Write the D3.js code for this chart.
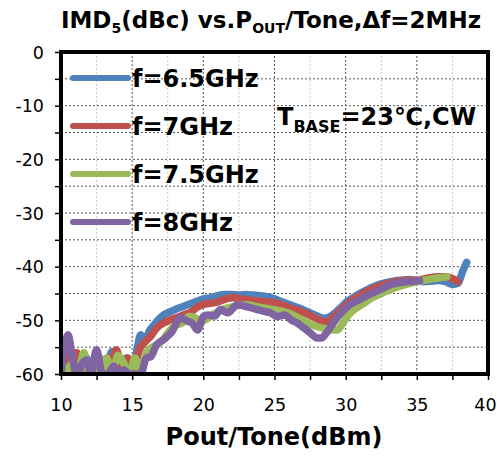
<!DOCTYPE html>
<html>
<head>
<meta charset="utf-8">
<script src="https://cdn.jsdelivr.net/npm/d3@7"></script>
<style>
  body { margin: 0; background: #fff; }
  text { font-family: "DejaVu Sans", Verdana, sans-serif; fill: #000; }
</style>
</head>
<body>
<div id="chart"></div>
<script>
// series data
var seriesNames = ["f=6.5GHz", "f=7GHz", "f=7.5GHz", "f=8GHz"];
var seriesColors = ["#4F81BD", "#C0504D", "#9BBB59", "#8064A2"];

var pout65 = [10.0, 10.3, 10.6, 11.0, 11.4, 11.8, 12.2, 12.6, 13.0, 13.3, 13.6, 13.9, 14.2, 14.6, 15.0, 15.3, 15.6, 15.9, 16.2, 16.5, 16.8, 17.2, 17.6, 18.0, 18.5, 19.0, 19.5, 20.0, 20.5, 21.0, 21.5, 22.0, 22.5, 23.0, 23.5, 24.0, 24.5, 25.0, 25.5, 26.0, 26.5, 27.0, 27.5, 28.0, 28.5, 28.9, 29.3, 29.7, 30.1, 30.5, 31.0, 31.5, 32.0, 32.5, 33.0, 33.5, 34.0, 34.5, 35.0, 35.5, 36.0, 36.5, 37.0, 37.5, 37.9, 38.2, 38.5];
var imd65  = [-54, -56, -60, -58, -60, -57, -60, -59, -60, -57.5, -55.8, -58, -60, -57, -60, -56, -52.7, -54, -52, -51, -50, -49, -48.5, -48, -47.5, -47, -46.5, -46, -45.8, -45.4, -45.2, -45.2, -45.3, -45.2, -45.3, -45.4, -45.6, -46, -46.5, -47, -47.5, -48, -48.6, -49.2, -49.6, -49.3, -48.5, -47.5, -46.5, -45.8, -45, -44.3, -43.7, -43.2, -42.9, -42.6, -42.5, -42.4, -42.6, -42.8, -42.7, -42.6, -42.8, -43.3, -43.1, -41, -39.2];

var pout7 = [10.0, 10.3, 10.7, 11.1, 11.5, 11.9, 12.3, 12.7, 13.1, 13.5, 13.9, 14.3, 14.7, 15.1, 15.5, 15.9, 16.3, 16.7, 17.2, 17.6, 18.1, 18.6, 19.1, 19.6, 20.1, 20.6, 21.1, 21.6, 22.1, 22.6, 23.1, 23.6, 24.1, 24.6, 25.1, 25.6, 26.1, 26.6, 27.1, 27.6, 28.1, 28.5, 28.9, 29.3, 29.7, 30.1, 30.5, 31.0, 31.5, 32.0, 32.5, 33.0, 33.5, 34.0, 34.5, 35.0, 35.5, 36.0, 36.5, 37.0, 37.5, 37.9];
var imd7  = [-55, -57, -60, -56, -60, -58, -60, -57, -60, -58, -55.5, -60, -57, -59, -55.5, -54, -53, -51.5, -50.5, -50, -49.5, -49, -48.5, -47.5, -47, -46.8, -46.5, -46, -45.8, -46, -46.2, -46.3, -46.5, -46.6, -46.8, -47.2, -47.7, -48.1, -48.6, -49.2, -49.9, -50.3, -50, -49, -48, -47, -46.2, -45.4, -44.6, -44, -43.5, -43.1, -42.8, -42.6, -42.5, -42.6, -42.3, -42, -41.9, -41.9, -42.2, -42.8];

var pout75 = [10.0, 10.4, 10.8, 11.2, 11.6, 12.0, 12.4, 12.8, 13.2, 13.6, 14.0, 14.4, 14.8, 15.2, 15.6, 16.0, 16.4, 16.8, 17.2, 17.6, 18.0, 18.5, 19.0, 19.4, 19.8, 20.2, 20.6, 21.0, 21.5, 22.0, 22.5, 23.0, 23.5, 24.0, 24.5, 25.0, 25.5, 26.0, 26.5, 27.0, 27.5, 28.0, 28.5, 29.0, 29.4, 29.8, 30.2, 30.6, 31.0, 31.5, 32.0, 32.5, 33.0, 33.5, 34.0, 34.5, 35.0, 35.5, 36.0, 36.5, 37.1];
var imd75  = [-57, -60, -58, -60, -56, -60, -59, -60, -57, -60, -56.5, -58, -60, -57, -60, -56, -55, -54.5, -53.5, -52, -51, -50.5, -49.3, -49.5, -50.3, -49.8, -49, -48.5, -47.8, -47.5, -47.2, -47.1, -47.3, -47.6, -47.8, -48, -48.3, -48.7, -49.3, -50, -50.7, -51.2, -51.5, -51.8, -51.8, -50.5, -49, -48, -47.3, -46.4, -45.6, -45, -44.4, -43.9, -43.5, -43.1, -42.8, -42.5, -42.3, -42.1, -41.9];

var pout8 = [10.0, 10.25, 10.5, 10.8, 11.1, 11.5, 11.8, 12.1, 12.5, 12.9, 13.3, 13.7, 14.1, 14.4, 14.8, 15.2, 15.6, 16.0, 16.3, 16.7, 17.2, 17.8, 18.4, 18.9, 19.2, 19.6, 20.0, 20.3, 20.8, 21.2, 21.7, 22.4, 23.1, 23.8, 24.2, 24.7, 25.2, 25.7, 26.2, 26.6, 27.0, 27.5, 28.0, 28.3, 28.6, 29.0, 29.4, 29.8, 30.3, 30.8, 31.3, 31.9, 32.5, 33.1, 33.7, 34.3, 34.8, 35.2];
var imd8  = [-60, -55, -52.7, -57, -60, -58, -57.4, -60, -55.5, -60, -60, -58.5, -60, -59.2, -60, -60, -60, -57, -56.8, -54.6, -53.6, -52.1, -49.5, -50.2, -50.5, -51.8, -49.3, -49, -49.2, -48, -48.6, -47.1, -47.5, -48, -48.3, -48.6, -49.3, -49, -50, -50.5, -51.3, -52.3, -53.3, -53.3, -52.5, -51, -49.5, -48.3, -47.1, -46.4, -45.7, -44.9, -44.2, -43.4, -43, -42.8, -42.7, -42.6];

var xTicks = [10, 15, 20, 25, 30, 35, 40];
var yTicks = [0, -10, -20, -30, -40, -50, -60];

var pouts = [pout65, pout7, pout75, pout8];
var imds = [imd65, imd7, imd75, imd8];

var width = 497, height = 457;
var margin = {top: 52, right: 9, bottom: 83, left: 61};
var plotW = width - margin.left - margin.right;
var plotH = height - margin.top - margin.bottom;

var svg = d3.select("#chart").append("svg")
    .attr("width", width)
    .attr("height", height);

var x = d3.scaleLinear().domain([10, 40]).range([0, plotW]);
var y = d3.scaleLinear().domain([-60, 0]).range([plotH, 0]);

var g = svg.append("g")
    .attr("transform", "translate(" + margin.left + "," + margin.top + ")");

// grid lines
var xGrid = d3.range(10, 40.01, 2.5);
var yGrid = d3.range(-60, 0.01, 5);

g.selectAll(".vgrid").data(xGrid).enter().append("line")
    .attr("x1", function(d){ return x(d); })
    .attr("x2", function(d){ return x(d); })
    .attr("y1", 0).attr("y2", plotH)
    .attr("stroke", function(d){ return d % 5 == 0 ? "#555" : "#c8c8c8"; })
    .attr("stroke-width", 1)
    .attr("stroke-dasharray", "2,2");

g.selectAll(".hgrid").data(yGrid).enter().append("line")
    .attr("x1", 0).attr("x2", plotW)
    .attr("y1", function(d){ return y(d); })
    .attr("y2", function(d){ return y(d); })
    .attr("stroke", "#555")
    .attr("stroke-width", 1)
    .attr("stroke-dasharray", "2,2");

// lines
svg.append("defs").append("clipPath").attr("id", "clip")
    .append("rect").attr("width", plotW).attr("height", plotH);

var line = d3.line()
    .x(function(d){ return x(d[0]); })
    .y(function(d){ return y(d[1]); })
    .curve(d3.curveMonotoneX);

var lines = g.append("g").attr("clip-path", "url(#clip)");
pouts.forEach(function(p, i){
    var pts = p.map(function(v, j){ return [v, imds[i][j]]; });
    lines.append("path")
        .datum(pts)
        .attr("d", line)
        .attr("fill", "none")
        .attr("stroke", seriesColors[i])
        .attr("stroke-width", 7.5)
        .attr("stroke-linejoin", "round")
        .attr("stroke-linecap", "round");
});

// axes
var xAxis = d3.axisBottom(x).tickValues(xGrid).tickSize(6)
    .tickFormat(function(d){ return xTicks.indexOf(d) >= 0 ? d : ""; });
var yAxis = d3.axisLeft(y).tickValues(yGrid).tickSize(6)
    .tickFormat(function(d){ return yTicks.indexOf(d) >= 0 ? d : ""; });

var gx = g.append("g").attr("transform", "translate(0," + plotH + ")").call(xAxis);
var gy = g.append("g").call(yAxis);
[gx, gy].forEach(function(a){
    a.select(".domain").remove();
    a.selectAll(".tick line").attr("stroke", "#000").attr("stroke-width", 1.5);
    a.selectAll(".tick text").style("font-family", "'DejaVu Sans', sans-serif")
        .style("font-size", "17.5px").attr("fill", "#000");
});
gx.selectAll(".tick text").attr("dy", null).attr("y", 37)
    .attr("dx", function(d){ return d == 40 ? -3 : 0; });
gy.selectAll(".tick text").attr("x", -17).attr("dy", "0.35em");

// plot border
g.append("rect")
    .attr("width", plotW).attr("height", plotH)
    .attr("fill", "none").attr("stroke", "#000").attr("stroke-width", 4);

// legend
var leg = g.selectAll(".leg").data(seriesNames).enter().append("g")
    .attr("transform", function(d, i){ return "translate(12," + (26 + i * 48) + ")"; });
leg.append("line")
    .attr("x1", 0).attr("x2", 55).attr("y1", 0).attr("y2", 0)
    .attr("stroke", function(d, i){ return seriesColors[i]; })
    .attr("stroke-width", 6)
    .attr("stroke-linecap", "round");
leg.append("text")
    .attr("x", 59).attr("y", 9)
    .style("font-size", "24px").style("font-weight", "bold")
    .text(function(d){ return d; });

// annotation
var ann = g.append("text").attr("x", 216).attr("y", 73)
    .style("font-weight", "bold").style("font-size", "24px");
ann.append("tspan").text("T");
ann.append("tspan").attr("dy", 7).style("font-size", "16px").text("BASE");
ann.append("tspan").attr("dy", -7).text("=23\u2103,CW");

// title
var title = svg.append("text")
    .attr("x", 271).attr("y", 28)
    .attr("text-anchor", "middle")
    .style("font-weight", "bold").style("font-size", "23px");
title.append("tspan").text("IMD");
title.append("tspan").attr("dy", 5).style("font-size", "14px").text("5");
title.append("tspan").attr("dy", -5).text("(dBc) vs.P");
title.append("tspan").attr("dy", 5).style("font-size", "14px").text("OUT");
title.append("tspan").attr("dy", -5).text("/Tone,\u0394f=2MHz");

// x axis title
svg.append("text")
    .attr("x", 274).attr("y", 445)
    .attr("text-anchor", "middle")
    .style("font-weight", "bold").style("font-size", "24px")
    .text("Pout/Tone(dBm)");
</script>
</body>
</html>
